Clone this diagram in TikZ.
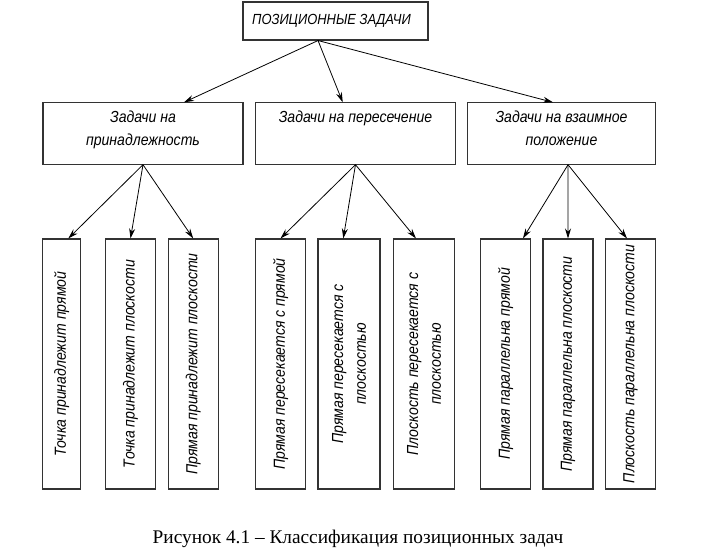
\documentclass[tikz,border=0pt]{standalone}
\usepackage{fontspec}
\setmainfont{Liberation Serif}
\newfontfamily\gostfont[FakeStretch=0.88]{Liberation Sans}
\usetikzlibrary{arrows.meta}

\begin{document}
\begin{tikzpicture}[x=0.75pt,y=-0.75pt,->,>={Stealth[length=7.5pt,width=4.5pt]},line width=0.6pt]
  \tikzstyle{every node}=[font=\gostfont\itshape\fontsize{12}{17}\selectfont]
  \tikzstyle{box}=[draw=black!80,line width=0.8pt,rectangle,inner sep=0pt]
  \tikzstyle{group}=[box,minimum height=46pt]
  \tikzstyle{leaf}=[box,minimum height=187.5pt]

  \useasboundingbox (0,0) rectangle (707,557);

  % top
  \node[box,minimum width=138.75pt,minimum height=28.5pt,font=\gostfont\itshape\fontsize{11}{13}\selectfont] (P) at (335.5,21) {\hspace*{-6pt}ПОЗИЦИОННЫЕ ЗАДАЧИ};

  % groups
  \node[group,minimum width=150pt,label={[anchor=north,yshift=-3pt,align=center]north:{Задачи на\\принадлежность}}] (A) at (143,133.5) {};
  \node[group,minimum width=150pt,label={[anchor=north,yshift=-3pt,align=center]north:{Задачи на пересечение}}] (B) at (355.5,133.5) {};
  \node[group,minimum width=141pt,label={[anchor=north,yshift=-3pt,align=center]north:{Задачи на взаимное\\положение}}] (C) at (561.5,133.5) {};

  % leaves
  \node[leaf,minimum width=28.1pt,label={[rotate=90]center:{Точка принадлежит прямой}}] (A1) at (61.5,364) {};
  \node[leaf,minimum width=37.5pt,label={[rotate=90]center:{Точка принадлежит плоскости}}] (A2) at (130.5,364) {};
  \node[leaf,minimum width=37.5pt,label={[rotate=90]center:{Прямая принадлежит плоскости}}] (A3) at (193.2,364) {};
  \node[leaf,minimum width=37.2pt,label={[rotate=90]center:{Прямая пересекается с прямой}}] (B1) at (280.5,364) {};
  \node[leaf,minimum width=46.5pt,label={[rotate=90,align=center]center:{Прямая пересекается с\\плоскостью}}] (B2) at (349,364) {};
  \node[leaf,minimum width=46pt,label={[rotate=90,align=center]center:{Плоскость пересекается с\\плоскостью}}] (B3) at (424,364) {};
  \node[leaf,minimum width=37.2pt,label={[rotate=90]center:{Прямая параллельна прямой}}] (C1) at (505.6,364) {};
  \node[leaf,minimum width=37.5pt,label={[rotate=90]center:{Прямая параллельна плоскости}}] (C2) at (568,364) {};
  \node[leaf,minimum width=37.2pt,label={[rotate=90]center:{Плоскость параллельна плоскости}}] (C3) at (630.5,364) {};

  \node[font=\fontsize{14.5}{16}\selectfont] (cap) at (358,539) {Рисунок 4.1 – Классификация позиционных задач};

  \path
    ([xshift=-13.1pt]P.south) edge ([xshift=30.75pt]A.north)
                              edge ([xshift=-9.6pt]B.north)
                              edge ([xshift=-6.4pt]C.north)
    (A.south) edge ([xshift=5.1pt]A1.north)
              edge (A2.north)
              edge (A3.north)
    (B.south) edge (B1.north)
              edge ([xshift=-4.3pt]B2.north)
              edge ([xshift=-6pt]B3.north)
    ([xshift=4.9pt]C.south) edge ([xshift=13pt]C1.north)
                            edge (C2.north)
                            edge ([xshift=-2.6pt]C3.north);
\end{tikzpicture}
\end{document}
